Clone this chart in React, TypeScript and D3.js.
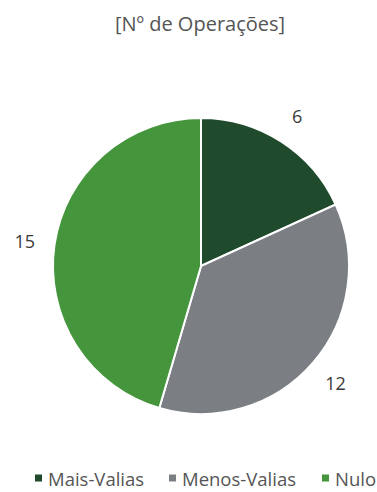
import React from "react";
import * as d3 from "d3";

const categories = ["Mais-Valias", "Menos-Valias", "Nulo"];
const values = [6, 12, 15];
const colors = ["#1f4b2c", "#7b7f84", "#44953c"];
const title = "[Nº de Operações]";

const W = 377;
const H = 492;
const cx = 201;
const cy = 266;
const R = 148;

export default function App() {
  const pie = d3.pie<number>().sort(null).value((d) => d)(values);
  const arc = d3.arc<d3.PieArcDatum<number>>().innerRadius(0).outerRadius(R);
  const labelArc = d3.arc<d3.PieArcDatum<number>>().innerRadius(R + 30).outerRadius(R + 30);
  const font = "'Open Sans', sans-serif";
  const legendX = [35, 169, 322];
  return (
    <div style={{ position: "absolute", left: 0, top: 0 }}>
      <svg width={W} height={H} style={{ display: "block", background: "#fff" }}>
        <text x={200} y={31} textAnchor="middle" fontFamily={font} fontSize={20} fill="#555">
          {title}
        </text>
        <g transform={`translate(${cx},${cy})`}>
          {pie.map((p, i) => (
            <path key={i} d={arc(p) || ""} fill={colors[i]} stroke="#fff" strokeWidth={2} />
          ))}
          {pie.map((p, i) => {
            const [lx, ly] = labelArc.centroid(p);
            return (
              <text key={i} x={lx} y={ly} textAnchor="middle" dominantBaseline="central" fontFamily={font} fontSize={18} fill="#3a3a3a">
                {values[i]}
              </text>
            );
          })}
        </g>
        {categories.map((c, i) => (
          <g key={c} transform={`translate(${legendX[i]},478)`}>
            <rect x={0} y={-3.5} width={7} height={7} fill={colors[i]} />
            <text x={13} y={0} dominantBaseline="central" fontFamily={font} fontSize={18.5} fill="#555">
              {c}
            </text>
          </g>
        ))}
      </svg>
    </div>
  );
}
